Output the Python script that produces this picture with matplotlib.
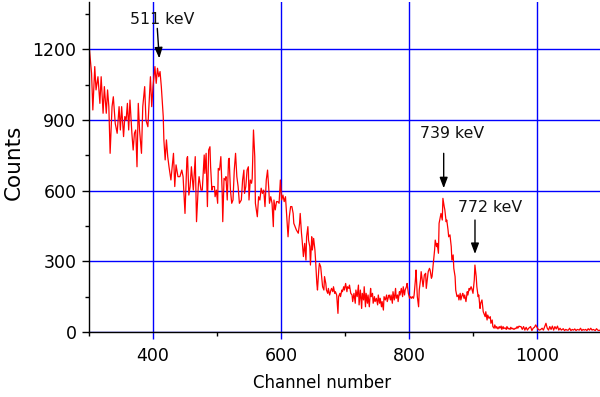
import matplotlib
matplotlib.use("Agg")
import matplotlib.pyplot as plt
from matplotlib.ticker import MultipleLocator

# ---- data ----
channels = [
    300, 304, 306, 309, 311, 314, 317, 319, 322, 324, 327, 329, 331, 333, 336, 338, 341, 344, 347, 349,
    351, 354, 356, 358, 360, 362, 364, 367, 369, 371, 373, 375, 377, 379, 382, 384, 387, 389, 392, 395,
    396, 398, 400, 403, 405, 407, 409, 411, 413, 416, 417, 419, 421, 423, 425, 428, 430, 432, 434, 436,
    439,
    442, 445, 447, 450, 453, 454, 456, 458, 460, 463, 466, 468, 471, 472, 475, 477, 480, 481, 483, 485,
    487, 489, 490, 492, 493, 496, 497, 499, 501, 502, 504, 506, 508, 509, 511, 513, 514, 516, 518, 519,
    521, 523, 525, 527, 529, 531, 533, 535, 538, 540, 542, 543, 545, 547, 549, 550, 552, 554, 555, 557,
    559, 560, 563, 565, 567, 569, 571, 573, 575,
    577, 579, 581, 582, 584, 586, 588, 589, 591, 593, 595, 597, 599, 601, 603, 605, 607, 609, 611, 613,
    615, 617, 619, 620, 622, 624, 627, 629, 630, 632, 633, 635, 637, 639, 640, 642, 643, 645, 646, 648,
    649, 651, 653, 654, 656, 657, 659, 660, 662, 664, 665, 667, 668, 670, 671, 673, 674, 676, 678, 679,
    681, 682, 684, 685, 687, 689, 690, 692, 693, 695, 696, 698, 699, 701, 703, 704, 706, 707, 709, 711,
    712, 714, 716, 717, 719, 721, 722, 724, 726, 727, 729, 730, 732, 733, 735, 736, 738, 740, 741, 743,
    744, 746, 747, 749, 751, 752, 754, 755, 757, 758, 760, 761, 763, 765, 766, 768, 769, 771, 772, 774,
    775, 777, 779, 780, 782, 783, 785, 786, 788, 790, 791, 793, 794, 796, 797, 799, 801, 802, 804, 805,
    807, 808, 810, 811, 813, 815, 816, 818, 819, 821, 822, 824, 826, 827, 829, 830, 832, 833, 835, 836,
    838, 840, 841, 843, 844, 846, 847,
    850, 852, 853, 855, 856, 858, 859, 861, 862, 864, 866, 867, 869, 870, 872, 873, 875, 877, 878, 880,
    881, 883, 884, 886, 887, 889, 891, 892, 894, 895, 897, 898, 900, 902, 903, 905, 906, 908, 909, 911,
    912, 914, 916, 917, 919, 920, 922, 923, 925, 927, 928, 930, 931, 933, 934, 936, 937, 939, 941, 942,
    944, 945, 947, 948, 950, 952, 953, 955, 956, 958, 959, 961, 962, 964, 966, 967, 969, 970, 972, 973,
    975, 977, 979, 981, 983, 985, 987, 990, 992, 994, 996, 998, 1000, 1002, 1004, 1006, 1008, 1010, 1012, 1014,
    1016, 1018, 1020, 1022, 1024, 1026, 1028, 1030, 1032, 1034, 1036, 1038, 1041, 1043, 1045, 1047, 1049, 1051, 1053, 1055,
    1057, 1059, 1061, 1063, 1066, 1068, 1070, 1072, 1074, 1076, 1078, 1080, 1082, 1084, 1086, 1088, 1091, 1093, 1095, 1097,
    1100,
]
counts = [
    1218, 1097, 942, 1126, 1027, 1083, 970, 1083, 928, 1041, 928, 1027, 956, 758, 956, 998, 885, 843, 956, 857,
    956, 829, 914, 899, 970, 857, 984, 843, 772, 843, 857, 701, 970, 857, 758, 956, 1041, 899, 871, 1027,
    1083, 956, 1041, 1126, 1055, 1119, 1083, 1105, 1041, 914, 815, 730, 815, 744, 701, 645, 701, 758, 617, 709,
    659,
    659, 687, 659, 503, 737, 744, 581, 617, 701, 602, 744, 468, 631, 659, 602, 602, 751, 673, 758, 532,
    772, 786, 701, 602, 617, 617, 574, 602, 546, 694, 687, 744, 602, 468, 652, 645, 659, 560, 730, 737,
    602, 546, 560, 687, 758, 659, 617, 546, 560, 645, 687, 588, 617, 687, 701, 560, 645, 631, 652, 857,
    744, 546, 489, 574, 560, 610, 588, 602, 532,
    645, 687, 602, 546, 574, 546, 447, 560, 518, 553, 553, 546, 645, 560, 581, 553, 574, 489, 404, 489,
    532, 532, 503, 461, 447, 433, 419, 461, 503, 419, 390, 320, 376, 305, 404, 447, 390, 362, 284, 404,
    348, 397, 348, 305, 206, 178, 263, 291, 277, 221, 192, 178, 235, 206, 178, 164, 185, 157, 178, 185,
    171, 192, 164, 171, 157, 79, 150, 164, 150, 178, 171, 192, 178, 206, 171, 192, 185, 199, 164, 157,
    129, 164, 122, 178, 150, 199, 115, 178, 100, 164, 136, 192, 107, 164, 122, 157, 107, 185, 150, 164,
    122, 150, 129, 143, 115, 157, 122, 143, 107, 129, 93, 150, 136, 157, 129, 150, 157, 136, 157, 122,
    171, 136, 185, 143, 157, 129, 171, 157, 185, 150, 192, 157, 178, 192, 206, 164, 143, 150, 143, 150,
    143, 157, 221, 263, 150, 107, 178, 221, 256, 214, 192, 242, 249, 185, 235, 256, 270, 263, 228, 235,
    291, 348, 390, 362, 376, 334, 461,
    503, 475, 567, 532, 518, 468, 475, 433, 404, 412, 362, 305, 327, 270, 235, 178, 150, 157, 136, 164,
    136, 157, 164, 143, 157, 129, 171, 157, 185, 178, 192, 185, 164, 221, 284, 235, 192, 150, 157, 100,
    122, 136, 86, 79, 65, 86, 51, 72, 58, 65, 37, 51, 23, 16, 30, 16, 23, 13, 23, 16,
    25, 11, 23, 14, 18, 11, 23, 13, 16, 11, 20, 13, 16, 11, 16, 14, 23, 16, 25, 23,
    23, 11, 23, 8, 20, 8, 16, 23, 6, 16, 20, 30, 20, 11, 8, 11, 16, 8, 23, 37,
    16, 8, 23, 11, 25, 8, 23, 13, 25, 8, 16, 8, 14, 6, 11, 8, 8, 16, 6, 11,
    8, 13, 6, 11, 8, 16, 6, 11, 8, 11, 6, 14, 8, 16, 8, 11, 6, 14, 8, 6,
    10,
]

x_major = [400, 600, 800, 1000]
y_major = [0, 300, 600, 900, 1200]
peak_labels = ["511 keV", "739 keV", "772 keV"]

# ---- figure ----
fig = plt.figure(figsize=(6.0, 3.97), dpi=100)
ax = fig.add_axes([89 / 600, 65 / 397, 512 / 600, 330 / 397])

ax.set_xlim(300, 1100)
ax.set_ylim(0, 1400)

ax.set_xticks(x_major)
ax.set_yticks(y_major)
ax.xaxis.set_minor_locator(MultipleLocator(100))
ax.yaxis.set_minor_locator(MultipleLocator(150))

ax.grid(True, which="major", color="#0000ff", linewidth=1.0)
ax.set_axisbelow(True)

ax.plot(channels, counts, color="#ff0000", linewidth=0.9, zorder=3)

for s in ("top", "right"):
    ax.spines[s].set_visible(False)
for s in ("left", "bottom"):
    ax.spines[s].set_linewidth(1.0)
    ax.spines[s].set_zorder(4)

ax.tick_params(axis="both", which="major", direction="out", length=5, width=1,
               labelsize=12.5, pad=4)
ax.tick_params(axis="both", which="minor", direction="out", length=3, width=1)
ax.tick_params(axis="x", which="major", color="#0000ff", pad=6)

ax.set_xlabel("Channel number", fontsize=12)
ax.set_ylabel("Counts", fontsize=15.5)
ax.xaxis.label.set_va("center")
ax.xaxis.set_label_coords((322 - 89) / 512, -(383 - 332) / 330)
ax.yaxis.label.set_va("center")
ax.yaxis.set_label_coords((14 - 89) / 512, (332 - 162) / 330)

# annotations
text_pos = [(414, 1324), (867, 844), (926.6, 530)]
arrow_from = [(406.7, 1288), (854.2, 758), (903.1, 475)]
arrow_to = [(409.8, 1161), (854.2, 610), (903.1, 331)]
for lab, tp, af, at in zip(peak_labels, text_pos, arrow_from, arrow_to):
    ax.text(tp[0], tp[1], lab, fontsize=11.3, ha="center", va="center", color="#111111", zorder=5)
    ax.annotate("", xy=at, xytext=af,
                arrowprops=dict(arrowstyle="-|>,head_length=0.8,head_width=0.3",
                                color="black", lw=1.0, shrinkA=0, shrinkB=0,
                                mutation_scale=8),
                zorder=5)

fig.savefig("out.png", dpi=100)
